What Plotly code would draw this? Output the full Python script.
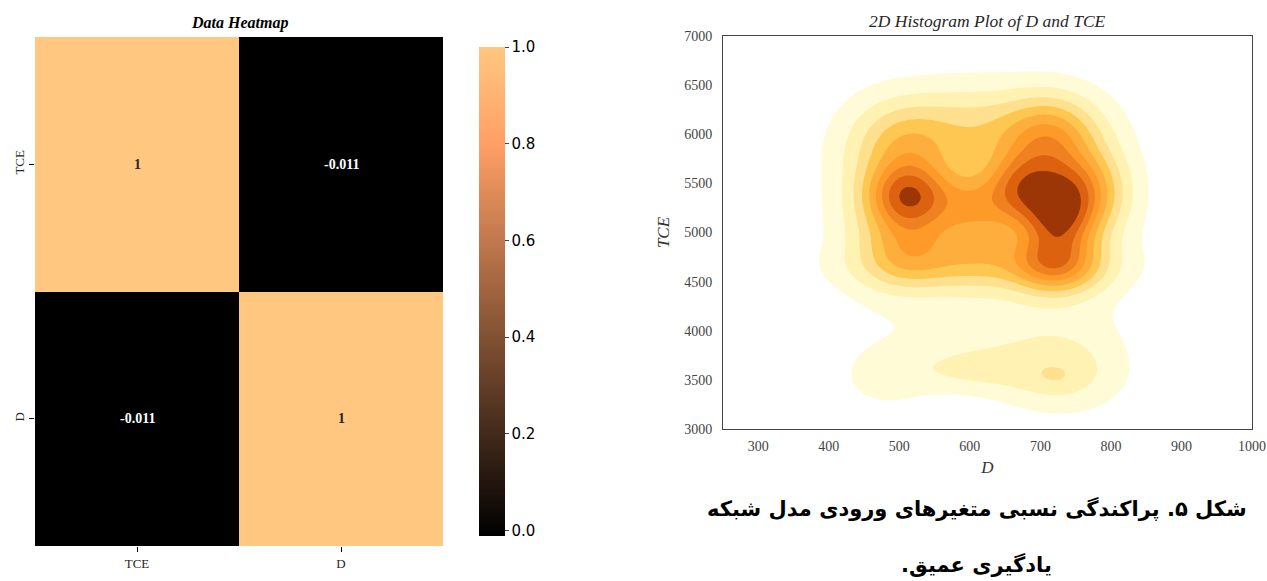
import numpy as np
import plotly.graph_objects as go

# ---------------- data ----------------
corr_labels = ["TCE", "D"]
corr_values = [[1.0, -0.011],
               [-0.011, 1.0]]
corr_text = [["1", "-0.011"],
             ["-0.011", "1"]]

# density bumps: centre D, centre TCE, spread D, spread TCE, height
mix_D = [676, 745, 726, 712, 720, 760, 512, 512, 510, 512, 512, 470,
         600, 608, 605, 615, 620, 650, 722, 728, 600, 480]
mix_T = [5450, 5420, 5130, 5960, 4700, 5300, 5360, 4970, 5880, 4700, 5600, 5300,
         5330, 4920, 6000, 4650, 5350, 4050, 3530, 3580, 3610, 3530]
mix_sD = [34, 40, 32, 42, 40, 50, 36, 40, 42, 42, 40, 50,
          42, 50, 90, 120, 120, 110, 22, 60, 62, 45]
mix_sT = [240, 260, 220, 260, 200, 600, 200, 250, 260, 200, 200, 600,
          200, 270, 300, 170, 750, 280, 90, 270, 170, 230]
mix_h = [0.50, 0.50, 0.47, 0.33, 0.50, 0.08, 0.54, 0.24, 0.17, 0.11, 0.12, 0.08,
         0.25, 0.25, 0.19, 0.10, 0.06, 0.04, 0.035, 0.12, 0.09, 0.055]

# contour levels as fractions of the peak density
level_frac = [0.035, 0.09, 0.16, 0.24, 0.33, 0.43, 0.53, 0.64, 0.77]
kde_colors = ["#ffffff", "#fffbd6", "#fff2b3", "#fee08f", "#fec752",
              "#feae3d", "#fd9a2a", "#f08121", "#dd6210", "#9c3607"]

x_ticks = [300, 400, 500, 600, 700, 800, 900, 1000]
y_ticks = [3000, 3500, 4000, 4500, 5000, 5500, 6000, 6500, 7000]

caption_line1 = "شکل ۵. پراکندگی نسبی متغیرهای ورودی مدل شبکه"
caption_line2 = "یادگیری عمیق.\u200f"

# ---------------- figure ----------------
W, H = 1267, 581


def X(px):
    return px / W


def Y(py):
    return 1 - py / H


fig = go.Figure()

copper = [[0.0, "#000000"], [0.8, "#ff9f65"], [1.0, "#ffc77f"]]
fig.add_trace(go.Heatmap(
    z=corr_values, x=corr_labels, y=corr_labels,
    colorscale=copper, zmin=-0.011, zmax=1.0,
    xaxis="x", yaxis="y", hoverinfo="skip",
    colorbar=dict(
        x=X(469), xanchor="left", y=Y(546), yanchor="bottom",
        len=(546 - 37) / H, lenmode="fraction", thickness=26,
        outlinewidth=0, ticks="outside", ticklen=4, tickwidth=1,
        tickvals=[0.0, 0.2, 0.4, 0.6, 0.8, 1.0],
        ticktext=["0.0", "0.2", "0.4", "0.6", "0.8", "1.0"],
        tickfont=dict(family="DejaVu Sans", size=15, color="#000000"),
    ),
))

annots = []
for i, row in enumerate(corr_values):
    for j, v in enumerate(row):
        annots.append(dict(
            x=corr_labels[j], y=corr_labels[i], xref="x", yref="y",
            text="<b>" + corr_text[i][j] + "</b>", showarrow=False,
            font=dict(family="Liberation Serif", size=14,
                      color="#262626" if v > 0.5 else "#ffffff"),
        ))

# KDE-like density grid
gD = np.linspace(250, 1000, 376)
gT = np.linspace(3000, 7000, 401)
DD, TT = np.meshgrid(gD, gT)
dens = np.zeros_like(DD)
for cd, ct, sd, st, h in zip(mix_D, mix_T, mix_sD, mix_sT, mix_h):
    dens += h * np.exp(-0.5 * (((DD - cd) / sd) ** 2 + ((TT - ct) / st) ** 2))
dmax = dens.max()
levels = np.array(level_frac) * dmax
zband = np.interp(dens, np.concatenate([[0.0], levels, [dmax * 1.0001]]),
                  np.arange(-1, len(levels) + 1))

n = len(kde_colors)
cs = []
for k, c in enumerate(kde_colors):
    lo = max(0.0, (k - 0.5) / (n - 1))
    hi = min(1.0, (k + 0.5) / (n - 1))
    cs.append([lo, c])
    cs.append([hi, c])

fig.add_trace(go.Contour(
    x=gD, y=gT, z=zband, xaxis="x2", yaxis="y2",
    colorscale=cs, showscale=False, hoverinfo="skip",
    contours=dict(coloring="fill", start=0, end=len(levels) - 1, size=1),
    line=dict(width=0, smoothing=1),
))

serif = "Liberation Serif"
annots += [
    dict(text="<b><i>Data Heatmap</i></b>", x=X(239), y=Y(23), xref="paper", yref="paper",
         showarrow=False, xanchor="center", yanchor="middle",
         font=dict(family=serif, size=16, color="#000")),
    dict(text="<i>2D Histogram Plot of D and TCE</i>", x=X(987.5), y=Y(21),
         xref="paper", yref="paper", showarrow=False, xanchor="center", yanchor="middle",
         font=dict(family=serif, size=17.5, color="#262626")),
    dict(text="<b>" + caption_line1 + "</b>", x=X(977), y=Y(508), xref="paper", yref="paper",
         showarrow=False, xanchor="center", yanchor="middle",
         font=dict(family="DejaVu Sans", size=21, color="#000")),
    dict(text="<b>" + caption_line2 + "</b>", x=X(976), y=Y(564), xref="paper", yref="paper",
         showarrow=False, xanchor="center", yanchor="middle",
         font=dict(family="DejaVu Sans", size=21, color="#000")),
]

fig.update_layout(
    width=W, height=H,
    margin=dict(l=0, r=0, t=0, b=0, autoexpand=False),
    paper_bgcolor="white", plot_bgcolor="white",
    showlegend=False,
    xaxis=dict(domain=[X(35), X(443)], anchor="y", showgrid=False, zeroline=False,
               automargin=False, ticks="outside", ticklen=5, tickcolor="#000", showline=False,
               tickfont=dict(family=serif, size=13, color="#262626")),
    yaxis=dict(domain=[Y(546), Y(37)], anchor="x", autorange="reversed",
               automargin=False, showgrid=False, zeroline=False, ticks="outside", ticklen=5,
               tickcolor="#000", tickangle=-90,
               tickfont=dict(family=serif, size=13, color="#262626")),
    xaxis2=dict(domain=[X(723), X(1252)], anchor="y2", range=[250, 1000],
                automargin=False, tickvals=x_ticks, ticks="", showgrid=False, zeroline=False,
                showline=True, mirror=True, linecolor="#444", linewidth=1,
                ticklabelstandoff=4,
                tickfont=dict(family=serif, size=14, color="#444"),
                title=dict(text="<i>D</i>", font=dict(family=serif, size=17, color="#333"), standoff=8)),
    yaxis2=dict(domain=[Y(429), Y(36)], anchor="x2", range=[3000, 7000],
                automargin=False, tickvals=y_ticks, ticks="", showgrid=False, zeroline=False,
                showline=True, mirror=True, linecolor="#444", linewidth=1,
                ticklabelstandoff=7,
                tickfont=dict(family=serif, size=14, color="#444"),
                title=dict(text="<i>TCE</i>", font=dict(family=serif, size=17, color="#333"), standoff=10)),
    annotations=annots,
)

fig.write_html("out.html", config={"displayModeBar": False},
               post_script="document.body.style.margin='0px';")
